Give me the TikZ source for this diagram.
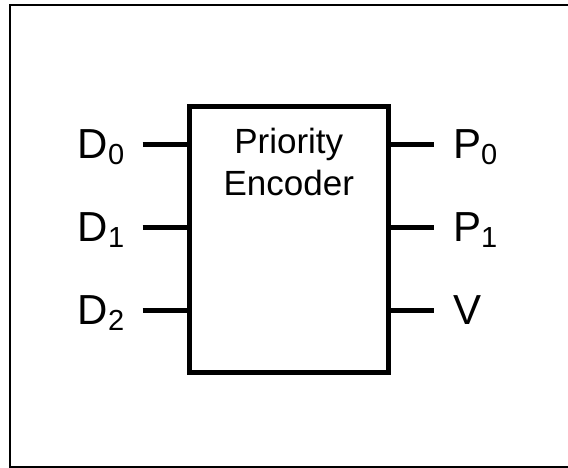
\documentclass[tikz,border=0pt]{standalone}
\usepackage{fontspec}
\setmainfont{Liberation Sans}
\usetikzlibrary{calc,positioning}
\newcommand{\pinsub}[1]{\raisebox{-6pt}{\fontsize{29}{29}\selectfont #1}}

\begin{document}
\begin{tikzpicture}[x=1pt, y=1pt,
    wire/.style={line width=5pt},
    sig/.style={inner sep=0pt, font=\fontsize{42}{42}\selectfont},
    boxtext/.style={inner sep=0pt, align=center, font=\fontsize{35}{42}\selectfont}]
          % Page frame (right side runs off the picture)
          \useasboundingbox (0,0) rectangle (568,468);
          \clip (0,0) rectangle (568,468);
          \draw[line width=2pt] (10,0.7) rectangle (575,462.5);

          % Encoder block
          \node[draw, line width=5pt, outer sep=0pt, inner sep=0pt,
                minimum width=199.5pt, minimum height=266pt] (enc) at (288.75,228.5) {};
          \node[boxtext, below=21pt of enc.north] (title) {Priority\\Encoder};

          % Inputs on the left
          \foreach \i in {0,1,2} {
            \coordinate (in\i) at ($(enc.north west)+(0,-38.5-83*\i)$);
            \coordinate (inend\i) at ($(in\i)+(-46.5,0)$);
            \draw[wire] (inend\i) -- (in\i);
            \node[sig, base left=18pt of inend\i, yshift=-14pt] (d\i) {D\pinsub{\i}};
          }

          % Outputs on the right
          \foreach \i/\lbl in {0/P\pinsub{0}, 1/P\pinsub{1}, 2/V} {
            \coordinate (out\i) at ($(enc.north east)+(0,-38.5-83*\i)$);
            \coordinate (outend\i) at ($(out\i)+(45.5,0)$);
            \draw[wire] (out\i) -- (outend\i);
            \node[sig, base right=19pt of outend\i, yshift=-14pt] (p\i) {\lbl};
          }
        \end{tikzpicture}
\end{document}
